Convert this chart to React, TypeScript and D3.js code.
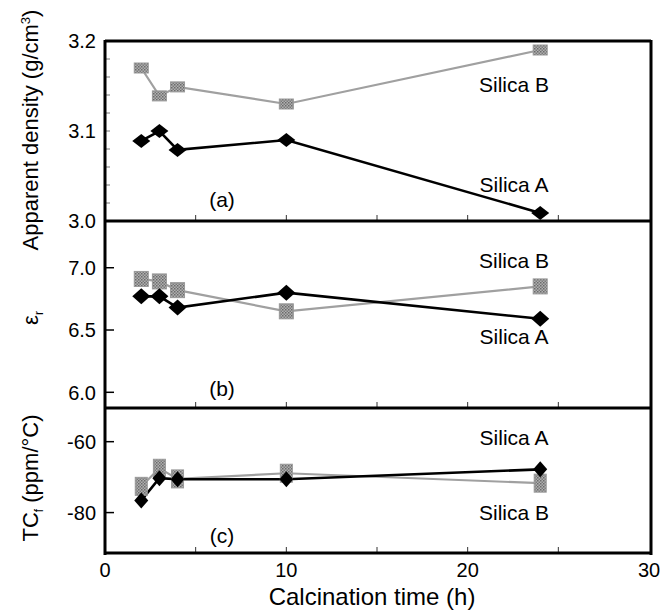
import React from "react";
import * as d3 from "d3";

const hours = [2, 3, 4, 10, 24];
const densityA = [3.089, 3.1, 3.079, 3.09, 3.009];
const densityB = [3.17, 3.139, 3.149, 3.13, 3.19];
const erA = [6.77, 6.77, 6.68, 6.8, 6.59];
const erB = [6.91, 6.89, 6.82, 6.65, 6.85];
const tcfA = [-76.6, -70.3, -70.6, -70.6, -67.8];
const tcfB = [-72.6, -67.5, -70.5, -68.9, -71.7];

const xTicks = [0, 10, 20, 30];
const xMinorTicks = [5, 10, 15, 20, 25];
const densityTicks = [3.0, 3.1, 3.2];
const erTicks = [6.0, 6.5, 7.0];
const tcfTicks = [-80, -60];

const FONT = "'Liberation Sans', Arial, sans-serif";
const W = 668;
const H = 610;
const left = 105;
const right = 651;

const x = d3.scaleLinear().domain([0, 30]).range([left, 649]);

const fmt1 = (v: number) => v.toFixed(1);
const fmt0 = (v: number) => String(Math.round(v));

type Panel = {
  key: string;
  top: number;
  bottom: number;
  domain: [number, number];
  a: number[];
  b: number[];
  ticks: number[];
  fmt: (v: number) => string;
  minor: number[];
  tag: string;
  tagY: number;
  labA: number;
  labB: number;
  sq: [number, number];
  dm: [number, number];
};

const panels: Panel[] = [
  {
    key: "a", top: 41, bottom: 221, domain: [3.0, 3.2], a: densityA, b: densityB,
    ticks: densityTicks, fmt: fmt1,
    minor: d3.range(1, 10).map((i) => 3.0 + i * 0.02),
    tag: "(a)", tagY: 207, labA: 192, labB: 92, sq: [14, 10], dm: [9, 7],
  },
  {
    key: "b", top: 221, bottom: 408, domain: [5.874, 7.375], a: erA, b: erB,
    ticks: erTicks, fmt: fmt1, minor: [],
    tag: "(b)", tagY: 396, labA: 344, labB: 268, sq: [14, 15], dm: [9, 8],
  },
  {
    key: "c", top: 408, bottom: 553, domain: [-91.4, -50.5], a: tcfA, b: tcfB,
    ticks: tcfTicks, fmt: fmt0, minor: [],
    tag: "(c)", tagY: 543, labA: 445, labB: 520, sq: [12, 18], dm: [7, 8],
  },
];

function diamond(cx: number, cy: number, hw: number, hh: number) {
  return `M${cx},${cy - hh}L${cx + hw},${cy}L${cx},${cy + hh}L${cx - hw},${cy}Z`;
}

export default function App() {
  return (
    <svg
      width={W}
      height={H}
      style={{ position: "absolute", left: 0, top: 0, background: "#fff" }}
      fontFamily={FONT}
    >
      <defs>
        <pattern id="chk" width="3" height="3" patternUnits="userSpaceOnUse">
          <rect width="3" height="3" fill="#b0b0b0" />
          <rect width="1.5" height="1.5" fill="#6a6a6a" />
          <rect x="1.5" y="1.5" width="1.5" height="1.5" fill="#7a7a7a" />
        </pattern>
      </defs>
      {panels.map((p) => {
        const y = d3.scaleLinear().domain(p.domain).range([p.bottom, p.top]);
        const line = d3
          .line<number>()
          .x((_, i) => x(hours[i]))
          .y((v) => y(v));
        return (
          <g key={p.key}>
            {p.minor.map((t) => (
              <line key={"m" + t} x1={left} x2={left + 5} y1={y(t)} y2={y(t)} stroke="#777" strokeWidth={1} />
            ))}
            {p.key !== "a" &&
              p.ticks.map((t) => (
                <line key={"t" + t} x1={left} x2={left + 9} y1={y(t)} y2={y(t)} stroke="#000" strokeWidth={1.5} />
              ))}
            {p.ticks.map((t) => (
              <text key={"l" + t} x={96} y={y(t)} dy="0.36em" textAnchor="end" fontSize={20}>
                {p.fmt(t)}
              </text>
            ))}
            {xMinorTicks.map((t) => (
              <line key={"x" + t} x1={x(t)} x2={x(t)} y1={p.bottom} y2={p.bottom - 6} stroke="#333" strokeWidth={1} />
            ))}
            <path d={line(p.b) || ""} fill="none" stroke="#a0a0a0" strokeWidth={2.2} />
            <path d={line(p.a) || ""} fill="none" stroke="#000" strokeWidth={2.6} />
            {p.b.map((v, i) => (
              <rect
                key={"sb" + i}
                x={x(hours[i]) - p.sq[0] / 2}
                y={y(v) - p.sq[1] / 2}
                width={p.sq[0]}
                height={p.sq[1]}
                fill="url(#chk)"
                stroke="#999"
                strokeWidth={1}
              />
            ))}
            {p.a.map((v, i) => (
              <path key={"da" + i} d={diamond(x(hours[i]), y(v), p.dm[0], p.dm[1])} fill="#000" />
            ))}
            <text x={222} y={p.tagY} textAnchor="middle" fontSize={21}>{p.tag}</text>
            <text x={514} y={p.labA} textAnchor="middle" fontSize={21}>Silica A</text>
            <text x={514} y={p.labB} textAnchor="middle" fontSize={21}>Silica B</text>
            <line x1={left} x2={right} y1={p.bottom} y2={p.bottom} stroke="#000" strokeWidth={3} />
          </g>
        );
      })}
      <line x1={left} x2={right} y1={41} y2={41} stroke="#000" strokeWidth={3} />
      <line x1={left} x2={left} y1={40} y2={555} stroke="#000" strokeWidth={3} />
      <line x1={right} x2={right} y1={40} y2={555} stroke="#000" strokeWidth={3} />
      {xTicks.map((t) => (
        <text key={"xt" + t} x={x(t)} y={577} textAnchor="middle" fontSize={20}>
          {t}
        </text>
      ))}
      <text x={372} y={605} textAnchor="middle" fontSize={24}>
        Calcination time (h)
      </text>
      <text transform="translate(38,130) rotate(-90)" textAnchor="middle" fontSize={22}>
        Apparent density (g/cm<tspan dy="-8" fontSize={13}>3</tspan><tspan dy="8">)</tspan>
      </text>
      <text transform="translate(38,318) rotate(-90)" textAnchor="middle" fontSize={22}>
        ε<tspan dy="5" fontSize={12}>r</tspan>
      </text>
      <text transform="translate(38,478) rotate(-90)" textAnchor="middle" fontSize={22}>
        TC<tspan dy="5" fontSize={12}>f</tspan><tspan dy="-5"> (ppm/°C)</tspan>
      </text>
    </svg>
  );
}
